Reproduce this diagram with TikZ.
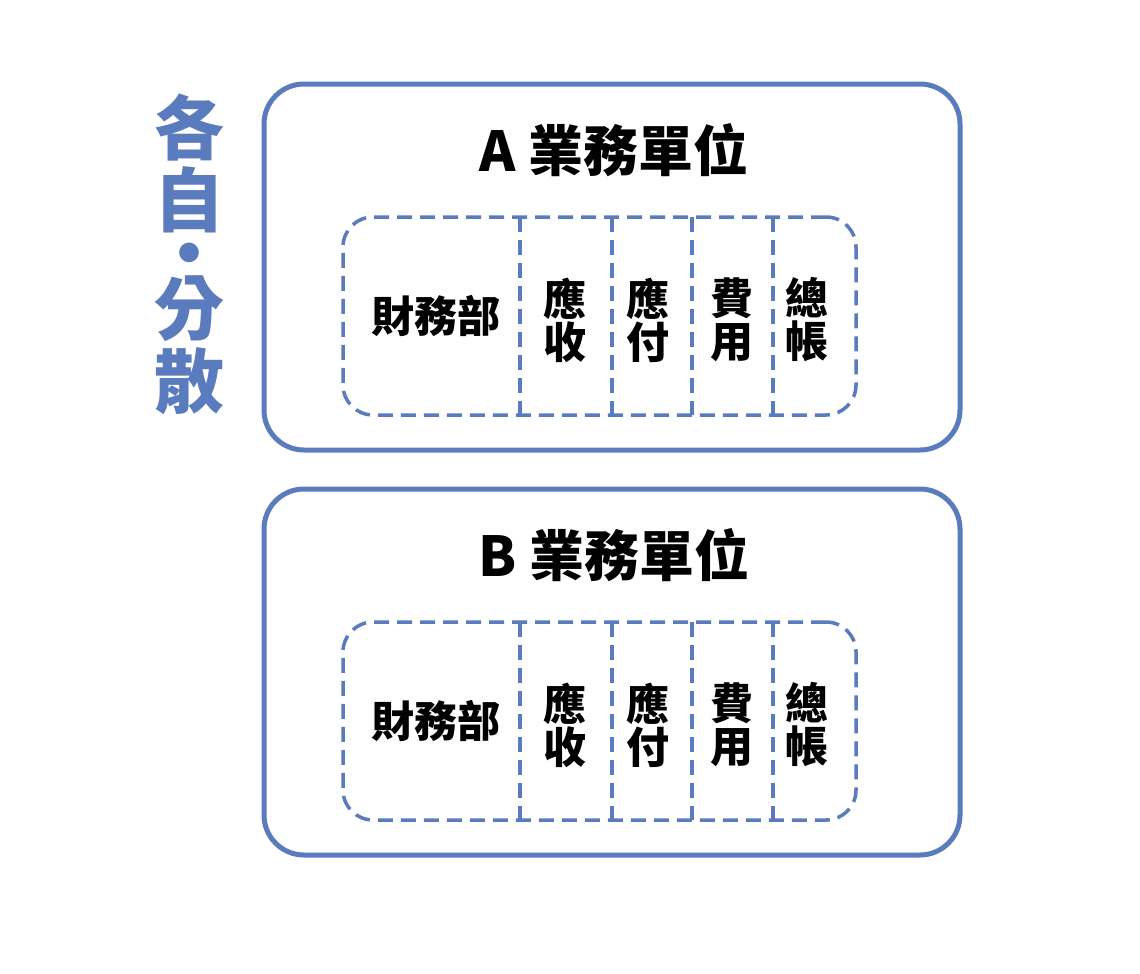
\documentclass[tikz,border=0pt]{standalone}
\usepackage{fontspec}
\newfontfamily\cjk{Noto Sans CJK TC}
\definecolor{myblue}{HTML}{5A7BBE}
\tikzset{
  outerbox/.style={draw=myblue, line width=5pt, rounded corners=40pt, minimum width=696pt, minimum height=366pt, inner sep=0, outer sep=0},
  innerbox/.style={draw=myblue, line width=3.5pt, dash pattern=on 15pt off 8pt, rounded corners=30pt, minimum width=513pt, minimum height=198pt, inner sep=0, outer sep=0},
  divider/.style={draw=myblue, line width=3.5pt, dash pattern=on 15pt off 8pt},
  cell/.style={font=\cjk\bfseries\fontsize{43}{43}\selectfont, align=center, inner sep=0},
  titlelbl/.style={font=\cjk\bfseries\fontsize{55}{55}\selectfont, inner sep=0},
  sidelbl/.style={font=\cjk\bfseries\fontsize{70}{70}\selectfont, text=myblue, inner sep=0, text height=56pt, text depth=3.5pt},
  sidedot/.style={sidelbl, text height=33.6pt, text depth=-19.6pt}
}
\begin{document}
\begin{tikzpicture}[x=1pt,y=-1pt]
\useasboundingbox[fill=white] (0,0) rectangle (1140,974);
% side label
\node[sidelbl] (s1) at (189,128) {各};
\node[sidelbl] (s2) at (189,200) {自};
\node[sidedot] (s3) at (189,263) {・};
\node[sidelbl] (s4) at (189,308) {分};
\node[sidelbl] (s5) at (189,381) {散};
\foreach \n/\dy in {A/0,B/405}{
  \node[outerbox] (box\n) at (612,{267+\dy}) {};
  \node[titlelbl] (title\n) at (614,{150+\dy}) {\n\ 業務單位};
  \node[innerbox] (dash\n) at (599.5,{316+\dy}) {};
  \foreach \dx in {177,269,349,430}{
    \draw[divider] ([xshift=\dx pt]dash\n.north west) -- ([xshift=\dx pt]dash\n.south west);
  }
  \node[cell] (fin\n) at (436,{316+\dy}) {財務部};
  \node[cell] (ar\n) at (565,{320+\dy}) {應\\收};
  \node[cell] (ap\n) at (648,{320+\dy}) {應\\付};
  \node[cell] (ex\n) at (732,{320+\dy}) {費\\用};
  \node[cell] (gl\n) at (807,{320+\dy}) {總\\帳};
}
\end{tikzpicture}
\end{document}
